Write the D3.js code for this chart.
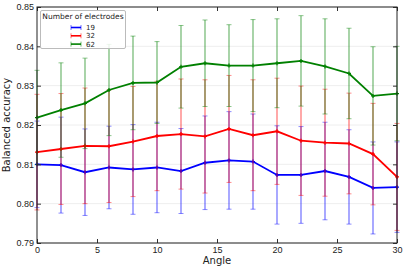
<!DOCTYPE html>
<html>
<head>
<meta charset="utf-8">
<script src="https://cdn.jsdelivr.net/npm/d3@7"></script>
<style>
  body { margin: 0; background: #fff; }
  svg { font-family: "DejaVu Sans", sans-serif; }
</style>
</head>
<body>
<main></main>
<script>
// angles on the x axis
var angles = [0, 2, 4, 6, 8, 10, 12, 14, 16, 18, 20, 22, 24, 26, 28, 30];

// mean balanced accuracy per number of electrodes
var acc19 = [0.8100, 0.8098, 0.8080, 0.8092, 0.8087, 0.8092, 0.8083, 0.8104, 0.8110, 0.8107, 0.8073, 0.8073, 0.8083, 0.8068, 0.8040, 0.8042];
var acc32 = [0.8131, 0.8139, 0.8147, 0.8146, 0.8158, 0.8172, 0.8177, 0.8171, 0.8190, 0.8174, 0.8184, 0.8160, 0.8155, 0.8153, 0.8126, 0.8068];
var acc62 = [0.8219, 0.8238, 0.8255, 0.8289, 0.8307, 0.8308, 0.8348, 0.8357, 0.8351, 0.8351, 0.8357, 0.8363, 0.8349, 0.8331, 0.8274, 0.8280];

// error bar half-lengths
var err19 = [0.0110, 0.0122, 0.0110, 0.0105, 0.0114, 0.0115, 0.0108, 0.0119, 0.0124, 0.0121, 0.0125, 0.0123, 0.0124, 0.0120, 0.0117, 0.0115];
var err32 = [0.0147, 0.0141, 0.0147, 0.0143, 0.0140, 0.0139, 0.0140, 0.0144, 0.0136, 0.0141, 0.0135, 0.0139, 0.0136, 0.0128, 0.0129, 0.0136];
var err62 = [0.0120, 0.0120, 0.0115, 0.0116, 0.0119, 0.0104, 0.0105, 0.0110, 0.0104, 0.0117, 0.0113, 0.0115, 0.0121, 0.0115, 0.0125, 0.0120];

var seriesNames = ["19", "32", "62"];
var xTicks = [0, 5, 10, 15, 20, 25, 30];
var yTicks = [0.79, 0.80, 0.81, 0.82, 0.83, 0.84, 0.85];

var series = [
  { name: seriesNames[0], values: acc19, errs: err19, color: "#0000ff" },
  { name: seriesNames[1], values: acc32, errs: err32, color: "#ff0000" },
  { name: seriesNames[2], values: acc62, errs: err62, color: "#008000" }
];

var width = 407, height = 270;
var margin = { top: 7, right: 10, bottom: 27, left: 37 };

var svg = d3.select("main")
  .append("svg")
  .attr("width", width)
  .attr("height", height);

var x = d3.scaleLinear().domain([0, 30]).range([margin.left, width - margin.right]);
var y = d3.scaleLinear().domain([0.79, 0.85]).range([height - margin.bottom, margin.top]);

//faint grid
svg.append("g")
  .selectAll("line")
  .data(yTicks)
  .enter()
  .append("line")
  .attr("x1", margin.left)
  .attr("x2", width - margin.right)
  .attr("y1", d => y(d))
  .attr("y2", d => y(d))
  .style("stroke", "#eeeeee")
  .style("stroke-width", 1);

//series with error bars
series.forEach(s => {
  var g = svg.append("g");
  var pts = angles.map((a, i) => ({ a: a, v: s.values[i], e: s.errs[i] }));

  g.selectAll(".bar")
    .data(pts)
    .enter()
    .append("line")
    .attr("x1", d => x(d.a))
    .attr("x2", d => x(d.a))
    .attr("y1", d => y(d.v - d.e))
    .attr("y2", d => y(d.v + d.e))
    .style("stroke", s.color)
    .style("stroke-opacity", 0.62)
    .style("stroke-width", 1.1);

  [-1, 1].forEach(sign => {
    g.selectAll(".cap" + sign)
      .data(pts)
      .enter()
      .append("line")
      .attr("x1", d => x(d.a) - 2.5)
      .attr("x2", d => x(d.a) + 2.5)
      .attr("y1", d => y(d.v + sign * d.e))
      .attr("y2", d => y(d.v + sign * d.e))
      .style("stroke", s.color)
      .style("stroke-opacity", 0.45)
      .style("stroke-width", 1);
  });

  g.append("path")
    .datum(pts)
    .attr("d", d3.line().x(d => x(d.a)).y(d => y(d.v)))
    .style("fill", "none")
    .style("stroke", s.color)
    .style("stroke-width", 1.8);

  g.selectAll(".mark")
    .data(pts)
    .enter()
    .append("path")
    .attr("d", d => {
      var cx = x(d.a), cy = y(d.v);
      return "M" + (cx - 2) + "," + cy + "H" + (cx + 2) + "M" + cx + "," + (cy - 2) + "V" + (cy + 2);
    })
    .style("stroke", s.color)
    .style("stroke-width", 1.2);
});

//axes
var fs = "9px";
svg.append("g")
  .attr("transform", "translate(0," + (height - margin.bottom) + ")")
  .call(d3.axisBottom(x).tickValues(xTicks).tickSize(-4).tickPadding(4).tickFormat(d3.format("d")))
  .call(g => g.select(".domain").remove())
  .selectAll("text").style("font-size", fs).attr("fill", "#222");

svg.append("g")
  .attr("transform", "translate(0," + margin.top + ")")
  .call(d3.axisTop(x).tickValues(xTicks).tickSize(-4).tickFormat(""))
  .call(g => g.select(".domain").remove());

svg.append("g")
  .attr("transform", "translate(" + margin.left + ",0)")
  .call(d3.axisLeft(y).tickValues(yTicks).tickSize(-4).tickPadding(3).tickFormat(d3.format(".2f")))
  .call(g => g.select(".domain").remove())
  .selectAll("text").style("font-size", fs).attr("fill", "#222");

svg.append("g")
  .attr("transform", "translate(" + (width - margin.right) + ",0)")
  .call(d3.axisRight(y).tickValues(yTicks).tickSize(-4).tickFormat(""))
  .call(g => g.select(".domain").remove());

svg.selectAll(".tick line").style("stroke", "#333");

//frame
svg.append("rect")
  .attr("x", margin.left)
  .attr("y", margin.top)
  .attr("width", width - margin.left - margin.right)
  .attr("height", height - margin.top - margin.bottom)
  .style("fill", "none")
  .style("stroke", "#222")
  .style("stroke-width", 1);

//axis labels
svg.append("text")
  .attr("x", (margin.left + width - margin.right) / 2)
  .attr("y", 264)
  .attr("text-anchor", "middle")
  .style("font-size", "10px")
  .attr("fill", "#222")
  .text("Angle");

svg.append("text")
  .attr("transform", "translate(10," + ((margin.top + height - margin.bottom) / 2) + ") rotate(-90)")
  .attr("text-anchor", "middle")
  .style("font-size", "10px")
  .attr("fill", "#222")
  .text("Balanced accuracy");

//legend
var legend = svg.append("g").attr("id", "legend");
legend.append("rect")
  .attr("x", 40.5)
  .attr("y", 10.5)
  .attr("width", 85)
  .attr("height", 38)
  .attr("rx", 1.5)
  .style("fill", "#fff")
  .style("fill-opacity", 0.85)
  .style("stroke", "#bbbbbb");

legend.append("text")
  .attr("x", 83)
  .attr("y", 19)
  .attr("text-anchor", "middle")
  .style("font-size", "7.5px")
  .attr("fill", "#222")
  .text("Number of electrodes");

series.forEach((s, i) => {
  var ly = 27.5 + i * 8.3;
  var lg = legend.append("g");
  lg.append("line")
    .attr("x1", 71).attr("x2", 81).attr("y1", ly).attr("y2", ly)
    .style("stroke", s.color).style("stroke-width", 1.6);
  [71, 81].forEach(cx => {
    lg.append("line")
      .attr("x1", cx).attr("x2", cx).attr("y1", ly - 2.5).attr("y2", ly + 2.5)
      .style("stroke", s.color).style("stroke-opacity", 0.55);
  });
  lg.append("text")
    .attr("x", 86)
    .attr("y", ly + 2.5)
    .style("font-size", "7px")
    .attr("fill", "#222")
    .text(s.name);
});
</script>
</body>
</html>
